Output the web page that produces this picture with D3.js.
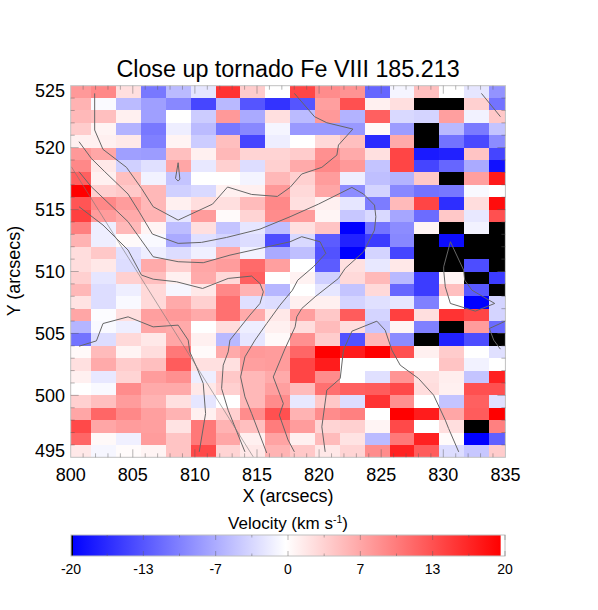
<!DOCTYPE html>
<html>
<head>
<meta charset="utf-8">
<script src="https://d3js.org/d3.v7.min.js"></script>
<style>
  body { margin: 0; background: white; }
  text { font-family: "Liberation Sans", Arial, sans-serif; fill: black; }
</style>
</head>
<body>
<div id="chart"></div>
<script>
// velocity per cell, km/s. rows top (525) to bottom (495), null = black (no fit)
var rows = [
  [8, 9.3, 2.5, -10.6, -5.3, -2, 16, 4, 0, 14.5, 9, 8.5, -12, -0.8, 5, 0, -2, -8.5],
  [6, -0.4, -5.3, -7.5, -9.3, -14.5, -5.5, -13.3, -16, -13.3, 7.5, 13.7, 1.2, 2.5, null, null, 3.7, -11],
  [5.5, 5, 1.2, -7.5, 0, -4, 8, -6.7, 2.5, -5.3, 8, -6, 12.5, -3, -3.4, 7.5, -1, 4.3],
  [4, 0.9, -6, -10.6, -1.3, -5.3, -10.6, -9.3, -0.8, -8, -8, -8, 0.5, -7.8, null, -5.5, -10.4, -4.6],
  [1.2, 1.2, 1.7, -10, 0.9, -4, 5, -14.6, -1.3, 0, 3, 5, -16.7, 6.7, null, -11, -14.3, -9],
  [8, 7, -7.5, -7.8, 5, 1.2, 5.6, 3.4, 3.4, 4, 8.7, 6.7, 2.4, 14.6, -18, -17.4, 4.6, -14.6],
  [9.3, 1.8, -3.7, -2.4, 7, -1.8, 3.7, -2.7, 3.7, 6.7, 9.3, 8, -4.6, 14.6, -14.6, -12, -6.7, -18.7],
  [12.5, 1.2, 5, -1, -4.6, 0, 0, -0.9, 5.6, 3.7, 7.8, -1.3, -5, -6, 4.3, null, 7.5, 18],
  [20, 3.7, 4.2, 5.6, -3.7, -3, 1.2, 1.2, 8, 3, 7, -9, -3.4, -9.3, -11, -10.6, -0.5, 0],
  [13.3, 9.3, 7.8, 5.6, 1.2, 2.6, 2.5, 5.3, 9.3, 2.5, 1.2, -2, -10.3, 5.4, 14.6, -16.4, 2.7, 19],
  [15, 7.8, 6.7, 6, -2, 7.8, 0.4, 3.4, 9, 7.8, 0.8, -4.4, -3, -7, -11.5, 4.3, -1.8, 13.7],
  [10, -1.3, 5.5, 0.9, -5.2, 2.5, -4.6, -2, -5, 2.4, 4.6, -20, -10.9, -9, 0.9, null, -1, null],
  [6, -1.3, 0.4, -0.5, -6.7, -2.4, -3.4, -2.7, -14, -3, -12.8, -17.3, -15.3, -9.3, null, -19, null, null],
  [2.7, 4.3, -2.4, -1.3, -2.7, -1.2, 6.7, -1, -6.7, -5, -13.6, -20, -3.4, -14.6, null, null, null, null],
  [2.7, 1.8, -2.7, 6.7, 3.7, 7, 7.8, 11.7, 7.5, 0, -12.8, 2.4, -1.8, 1.8, null, null, -14, null],
  [3.7, -2, 3.7, 5, 1.2, 6.7, 3, 12.5, 0, 1, -3.7, 3, 5.5, -5.5, -15.3, 0.9, null, -15.3],
  [5.6, -2.7, -1.3, 3, -0.7, 1.8, 9.3, 6, -5.7, 0, -2, -4.6, 3, -12, -15.3, 5, -13, null],
  [2.2, -2.7, -0.5, 3, 6.7, 3.7, 11.2, -2.4, -2.7, 1.2, 1.2, -3.4, -2.4, -2, -10, 0, -20, -3.4],
  [7, -0.2, 2.5, 7.5, 8, 6.7, 11.2, 6.7, 1.8, 7.5, 4.3, 12.8, -3.4, 15, 2.5, 16, 14.6, -3.4],
  [-5.8, -0.5, -1.3, 7, 6.7, 0, 2.7, -1.3, 1.2, 2.7, 5.3, 2.7, -4.4, 0.8, -10, null, 7.8, -11.7],
  [-11, -2.7, 3, 1.8, 7, 1.2, -5.5, -2, 0.5, 8.7, 4, -13.6, 5.6, -9, null, -17.4, -14, null],
  [0.5, 5.3, 0.9, 2.7, 10.6, 0.4, 6.7, 8, 7.8, 12, 20, 17.8, 20, 13.7, 1.2, 4, 0, -2.4],
  [2.4, 6.7, 4, 5, 12.8, 2.4, 2.4, 7.5, 7.8, 14.6, 17.8, 0, 0, 0, 0, 4.6, -1, 0],
  [1.2, -1.8, 3.4, 7.8, 8.7, -1.3, 4.3, 5.6, 6.7, 14.6, 9, 0, -2.4, 8.4, 2.4, 1.3, -4.6, 17.4],
  [0, -0.5, 9, 6.7, 6.7, 1.8, 3.7, 5.6, 7.5, 5.3, 11.2, 12.5, 12.8, 14.3, 2.7, 1.2, 13.7, 13.7],
  [3.7, 5, 7.8, 6, 2.4, -2, 0, 5.6, 9, -1.8, 4.3, -2.7, 16, 8.7, 0, -4.6, 12.5, -2.4],
  [7, 12, 9.3, 7.5, 6, 1.2, 3.7, 9, 13.7, 6, 9, 10, 0, 20, 17.8, 7, 12.8, 20],
  [14.3, 7, 7.8, 7.5, 2.2, 10.6, 6, 5, 10.3, 7.8, 3.4, 3.7, 0.9, 14.3, 0, 2.6, null, 10],
  [12, 0.5, -1.2, 7.8, 4.6, 10.6, 7, 1.2, 7.2, 1.2, 5.3, 2.2, -5.3, 10.6, 17.4, 0.4, -20, -12.5],
  [1.8, -0.7, 0.3, 0.9, 4.6, 14.3, 3.4, 1.8, 6, 4.3, 1.8, 3.4, 9, 17.4, 12.8, -2.7, -4.4, 4]
];

// cell edges in arcsecs (first and last column are cut by the axis)
var xEdges = [800, 801.67, 803.67, 805.67, 807.67, 809.67, 811.67, 813.67, 815.67, 817.67, 819.67,
              821.67, 823.67, 825.67, 827.67, 829.67, 831.67, 833.67, 835];
var yEdges = d3.range(525, 494, -1);

// contours of the intensity image, [x, y] in arcsecs
var contours = [
  [[801.93,524.38],[801.93,521.42],[802.6,519.86],[804.49,518.41],[805.7,516.71],[806.64,515.23],[808.65,514.15],[811.42,515.44],[812.63,516.82],[814.57,516.22],[816.64,516.06],[817.66,516.79],[818.6,517.87],[820.22,518.41],[821.43,519.4],[821.56,520.21],[822.72,521.5],[820.62,522.01],[819.63,522.5],[818.01,524.38]],
  [[808.65,518.78],[808.44,517.52],[808.65,517.3],[808.79,517.46],[808.65,518.78]],
  [[800.67,520.48],[801.66,519.13],[802.74,518.06],[804.62,516.25],[805.56,514.74],[806.58,513.02],[808.65,512.27],[810.53,512.35],[812.55,512.75],[815.24,513.42],[817.66,514.42],[819.95,515.44],[822.64,516.79],[823.58,516.25],[824.46,515.36],[824.57,514.42],[824.46,513.34],[823.58,511.59],[822.1,510.25],[821.56,509.44],[819.68,507.96],[818.6,507.01],[818.2,506.34],[818.07,505.53],[817.26,503.78],[816.31,501.49],[817.12,499.34],[816.8,498.4],[817.5,496.4],[818.01,495.44]],
  [[800.67,518.06],[801.66,516.84],[804.62,514.02],[806.64,511.19],[808.65,510.79],[810.67,510.71],[812.82,511.32],[815.24,511.86],[817.66,512.4],[818.6,512.81],[820.08,512.4],[820.54,511.46],[819.54,510.38],[818.28,509.3],[817.85,508.49],[816.85,507.28],[815.78,505.8],[814.84,504.46],[814.03,503.11],[813.68,501.49],[814.03,499.88],[814.57,498.53],[815.78,495.35]],
  [[800.67,515.23],[802.6,513.75],[804.62,511.73],[805.7,509.71],[806.64,509.38],[808.52,509.17],[810.62,508.63],[812.68,509.44],[814.57,509.63],[815.24,509.03],[815.51,508.36],[815.24,507.42],[814.43,506.48],[812.82,504.46],[812.68,503.51],[812.28,502.44],[812.15,500.55],[812.68,498.8],[814.03,495.44]],
  [[800.67,503.97],[802.07,504.4],[802.6,505.8],[804.62,506.34],[806.64,505.53],[808.65,505.67],[809.46,504.46],[809.59,503.51],[810.13,502.3],[810.67,500.96],[810.86,498.53],[810.35,495.44]],
  [[830.57,512.4],[830.03,510.38],[830.03,510.11],[830.16,508.76],[830.57,507.42],[832.58,506.8],[834.14,507.42],[832.31,508.49],[831.72,509.3],[831.64,510.11],[830.57,512.4]],
  [[833.07,524.38],[834.6,522.5]],
  [[835,505.99],[833.71,505.4],[834.06,504.46],[834.6,503.73]],
  [[820.49,495.44],[820.22,497.46],[820.62,500.42],[821.7,501.36],[821.96,503.65],[822.64,505.18],[824.65,505.99],[825.32,505.26],[825.86,503.65],[826.53,502.44],[828.01,501.36],[829.22,500.02],[830.16,498],[830.43,497.32],[831.24,495.44]]
];
// the thin straight line (limb)
var limb = [[800.05,518.46],[814.7,495.03]];

var xTicks = [800, 805, 810, 815, 820, 825, 830, 835];
var yTicks = [495, 500, 505, 510, 515, 520, 525];
var barTicks = [-20, -13, -7, 0, 7, 13, 20];

var width = 598, height = 610;
var svg = d3.select("#chart").append("svg")
    .attr("width", width)
    .attr("height", height)
    .style("display", "block");

var x = d3.scaleLinear().domain([800, 835]).range([70.7, 505.4]);
var y = d3.scaleLinear().domain([495, 525]).range([457.3, 85.7]);
var color = d3.scaleLinear().domain([-20, 0, 20]).range(["#0000ff", "#ffffff", "#ff0000"]);

// image cells
var cells = [];
rows.forEach(function(row, r) {
  row.forEach(function(v, c) { cells.push({r: r, c: c, v: v}); });
});
svg.append("g").attr("shape-rendering", "crispEdges")
  .selectAll("rect").data(cells).enter().append("rect")
    .attr("x", function(d) { return x(xEdges[d.c]); })
    .attr("y", function(d) { return y(yEdges[d.r]); })
    .attr("width", function(d) { return x(xEdges[d.c + 1]) - x(xEdges[d.c]); })
    .attr("height", function(d) { return y(yEdges[d.r + 1]) - y(yEdges[d.r]); })
    .attr("fill", function(d) { return d.v === null ? "#000" : color(d.v); });

// contours
var line = d3.line().x(function(d) { return x(d[0]); }).y(function(d) { return y(d[1]); });
svg.append("g").selectAll("path").data(contours).enter().append("path")
    .attr("d", line)
    .attr("fill", "none")
    .attr("stroke", "#666")
    .attr("stroke-width", 1);
svg.append("path").attr("d", line(limb))
    .attr("fill", "none").attr("stroke", "#777").attr("stroke-width", 0.6);

// frame and ticks, they point inwards
var axisColor = "#c0c0c0", tickColor = "rgba(90,90,90,0.45)";
svg.append("rect")
    .attr("x", x(800)).attr("y", y(525))
    .attr("width", x(835) - x(800)).attr("height", y(495) - y(525))
    .attr("fill", "none").attr("stroke", axisColor).attr("stroke-width", 1);

var tg = svg.append("g").attr("stroke", tickColor).attr("stroke-width", 1);
d3.range(801, 835).forEach(function(v) {
  var len = v % 5 === 0 ? 8 : 4;
  tg.append("line").attr("x1", x(v)).attr("x2", x(v)).attr("y1", y(495)).attr("y2", y(495) - len);
  tg.append("line").attr("x1", x(v)).attr("x2", x(v)).attr("y1", y(525)).attr("y2", y(525) + len);
});
d3.range(496, 525).forEach(function(v) {
  var len = v % 5 === 0 ? 8 : 4;
  tg.append("line").attr("y1", y(v)).attr("y2", y(v)).attr("x1", x(800)).attr("x2", x(800) + len);
  tg.append("line").attr("y1", y(v)).attr("y2", y(v)).attr("x1", x(835)).attr("x2", x(835) - len);
});

// tick labels
svg.append("g").selectAll("text").data(xTicks).enter().append("text")
    .attr("x", function(d) { return x(d); })
    .attr("y", 481)
    .attr("text-anchor", "middle")
    .attr("font-size", 18)
    .text(function(d) { return d; });
svg.append("g").selectAll("text").data(yTicks).enter().append("text")
    .attr("x", 65)
    .attr("y", function(d) {
      if (d === 525) return y(d) + 11.3;
      if (d === 495) return y(d);
      return y(d) + 6.4;
    })
    .attr("text-anchor", "end")
    .attr("font-size", 18)
    .text(function(d) { return d; });

svg.append("text").attr("x", 288).attr("y", 77)
    .attr("text-anchor", "middle").attr("font-size", 23.3)
    .text("Close up tornado Fe VIII 185.213");
svg.append("text").attr("x", 288).attr("y", 502)
    .attr("text-anchor", "middle").attr("font-size", 18)
    .text("X (arcsecs)");
svg.append("text")
    .attr("transform", "translate(20,271) rotate(-90)")
    .attr("text-anchor", "middle").attr("font-size", 18)
    .text("Y (arcsecs)");

// colour bar
var bar = d3.scaleLinear().domain([-20, 20]).range([71, 505]);
var barTop = 535, barBottom = 556;
var defs = svg.append("defs");
var grad = defs.append("linearGradient").attr("id", "velgrad");
grad.append("stop").attr("offset", "0%").attr("stop-color", color(-20));
grad.append("stop").attr("offset", "50%").attr("stop-color", color(0));
grad.append("stop").attr("offset", "100%").attr("stop-color", color(20));

svg.append("rect").attr("x", bar(-20)).attr("y", barTop)
    .attr("width", bar(19.6) - bar(-20)).attr("height", barBottom - barTop)
    .attr("fill", "url(#velgrad)");
svg.append("rect").attr("x", bar(-20)).attr("y", barTop)
    .attr("width", 2).attr("height", barBottom - barTop)
    .attr("fill", "#000");
svg.append("rect").attr("x", bar(-20)).attr("y", barTop)
    .attr("width", bar(20) - bar(-20)).attr("height", barBottom - barTop)
    .attr("fill", "none").attr("stroke", axisColor).attr("stroke-width", 1);

var bg = svg.append("g").attr("stroke", tickColor).attr("stroke-width", 1);
d3.range(-20 + 40 / 12, 20, 40 / 12).forEach(function(v, i) {
  var len = i % 2 === 1 ? 5 : 2.5;
  bg.append("line").attr("x1", bar(v)).attr("x2", bar(v)).attr("y1", barTop).attr("y2", barTop + len);
  bg.append("line").attr("x1", bar(v)).attr("x2", bar(v)).attr("y1", barBottom).attr("y2", barBottom - len);
});

svg.append("g").selectAll("text").data(barTicks).enter().append("text")
    .attr("x", function(d) { return bar(d === -13 ? -13.33 : d === 13 ? 13.33 : d === -7 ? -6.67 : d === 7 ? 6.67 : d); })
    .attr("y", 574)
    .attr("text-anchor", "middle")
    .attr("font-size", 14)
    .text(function(d) { return d; });

var vel = svg.append("text").attr("x", 288).attr("y", 529)
    .attr("text-anchor", "middle").attr("font-size", 17);
vel.append("tspan").text("Velocity (km s");
vel.append("tspan").attr("font-size", 10.5).attr("dy", -6).text("-1");
vel.append("tspan").attr("dy", 6).text(")");
</script>
</body>
</html>
